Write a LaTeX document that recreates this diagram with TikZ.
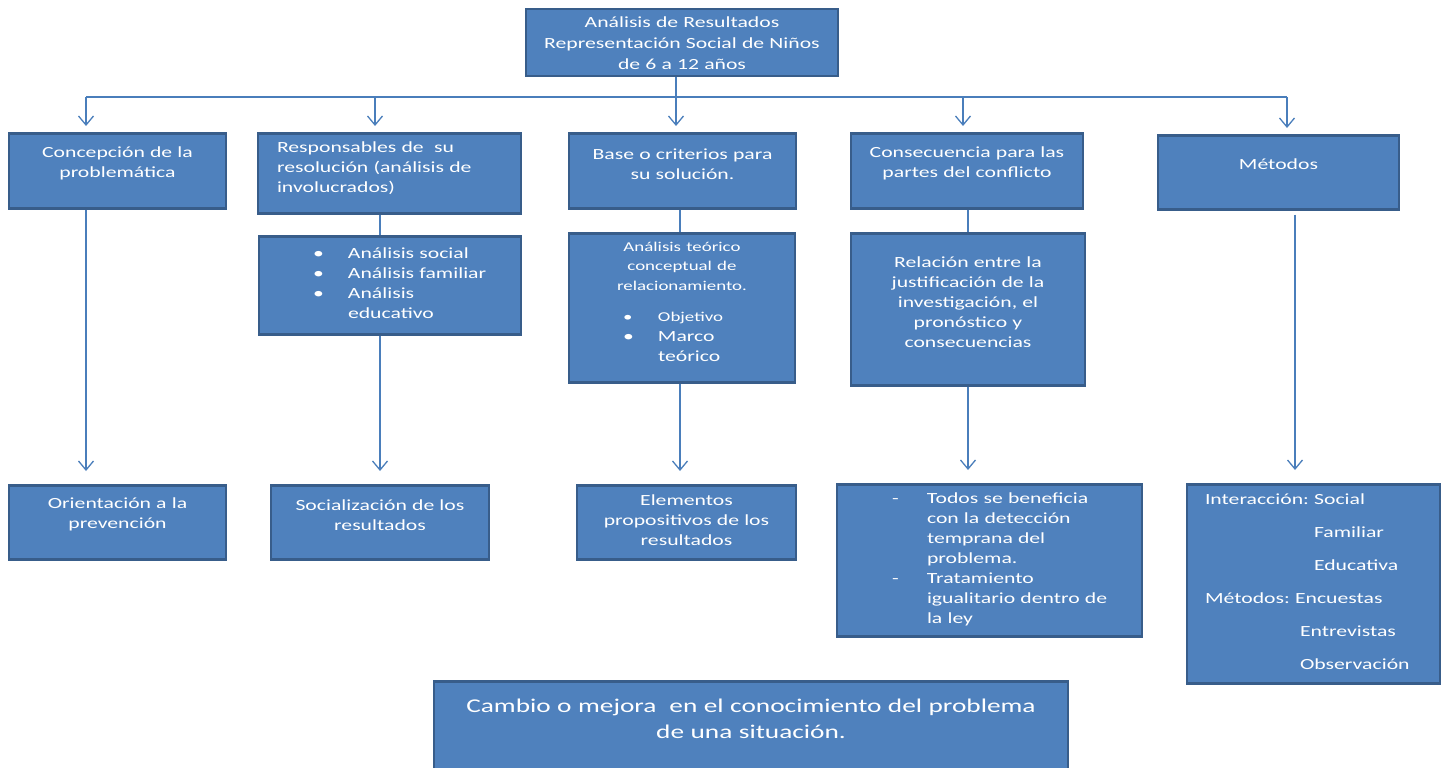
\documentclass[tikz,border=0pt]{standalone}
\usepackage{fontspec}
\setmainfont{Carlito}[FakeStretch=1.4]
\usepackage{tikz}
\usetikzlibrary{arrows.meta}
\usetikzlibrary{positioning}
\usepackage{xcolor}
\frenchspacing

\definecolor{azul}{HTML}{4F81BD}
\definecolor{bordeazul}{HTML}{385D8A}
\definecolor{lineaazul}{HTML}{4A7EBB}

\newcommand{\normal}{\fontsize{15.5}{20}\selectfont}
\newcommand{\chica}{\fontsize{13.5}{19}\selectfont}
\newcommand{\vineta}[3]{\hspace*{#1}\llap{\makebox[35pt][l]{#2}}#3}

\tikzset{
  caja/.style={draw=bordeazul, fill=azul, line width=2.5pt, text=white, inner sep=0pt,
    anchor=north, align=center, font=\normal},
  tam/.style 2 args={minimum width=#1, text width=#1, minimum height=#2},
  relleno/.style={execute at end node={\par\vspace*{#1}}},
  linea/.style={draw=lineaazul, line width=1.3pt},
  flecha/.style={linea, -{Straight Barb[length=9pt,width=15pt]}}
}

\begin{document}
\begin{tikzpicture}[x=1pt, y=-1pt]
    \useasboundingbox (0,0) rectangle (1443,768);
    % Titulo
    \node[caja, tam={312pt}{67pt}, font=\fontsize{15.5}{21}\selectfont] (titulo) at (682,8)
        {Análisis de Resultados\\Representación Social de Niños\\de 6 a 12 años};
    % Primera fila
    \node[caja, tam={217pt}{75pt}, relleno=14pt] (concepcion) at (117.5,132) {Concepción de la\\problemática};
    \node[caja, tam={263pt}{80pt}, relleno=10pt, align=left] (responsables) at (389.5,132)
        {\hspace*{19pt}Responsables de~ su\\\hspace*{19pt}resolución (análisis de\\\hspace*{19pt}involucrados)};
    \node[caja, tam={227pt}{75pt}, relleno=14pt] (base) at (682.5,132) {Base o criterios para\\su solución.};
    \node[caja, tam={232pt}{75pt}, relleno=14pt] (consecuencia) at (967,132) {Consecuencia para las\\partes del conflicto};
    \node[caja, tam={241pt}{74pt}, relleno=16pt] (metodos) at (1278.5,134) {Métodos};
    % Segunda fila
    \node[caja, tam={262pt}{98pt}, relleno=4pt, align=left] (analisis) at (390,235)
        {\vineta{89pt}{\textbullet}{Análisis social}\\\vineta{89pt}{\textbullet}{Análisis familiar}\\
         \vineta{89pt}{\textbullet}{Análisis}\\\hspace*{89pt}educativo};
    \node[caja, tam={226pt}{149pt}, relleno=12pt] (teorico) at (682,232)
        {{\chica Análisis teórico\\conceptual de\\relacionamiento.}\\[11pt]
         \makebox[\linewidth][l]{\chica\vineta{89pt}{\textbullet}{Objetivo}}\\
         \makebox[\linewidth][l]{\vineta{89pt}{\textbullet}{Marco}}\\
         \makebox[\linewidth][l]{\hspace*{89pt}teórico}};
    \node[caja, tam={234pt}{152pt}, relleno=15pt] (relacion) at (968,232)
        {Relación entre la\\justificación de la\\investigación, el\\pronóstico y\\consecuencias};
    % Tercera fila
    \node[caja, tam={217pt}{74pt}, relleno=16pt] (orientacion) at (117.5,484) {Orientación a la\\prevención};
    \node[caja, tam={218pt}{74pt}, relleno=15pt] (socializacion) at (380,484) {Socialización de los\\resultados};
    \node[caja, tam={219pt}{74pt}, relleno=4pt] (elementos) at (686.5,484) {Elementos\\propositivos de los\\resultados};
    \node[caja, tam={305pt}{152pt}, relleno=2pt, align=left] (beneficio) at (989.5,483)
        {\vineta{90pt}{-}{Todos se beneficia}\\\hspace*{90pt}con la detección\\\hspace*{90pt}temprana del\\
         \hspace*{90pt}problema.\\\vineta{90pt}{-}{Tratamiento}\\\hspace*{90pt}igualitario dentro de\\\hspace*{90pt}la ley};
    \node[caja, tam={253pt}{199pt}, relleno=4pt, align=left, font=\fontsize{15.5}{33}\selectfont] (tecnicas) at (1313.5,483)
        {\hspace*{18pt}Interacción: Social\\\hspace*{127pt}Familiar\\\hspace*{127pt}Educativa\\
         \hspace*{18pt}Métodos: Encuestas\\\hspace*{113pt}Entrevistas\\\hspace*{113pt}Observación};
    % Conclusion
    \node[caja, tam={634pt}{100pt}, relleno=24pt, font=\fontsize{19.5}{26}\selectfont] (cambio) at (751,680)
        {Cambio o mejora~ en el conocimiento del problema\\de una situación.};
    % Conectores
    \coordinate (c1) at (86,97);
    \coordinate (c2) at (375,97);
    \coordinate (c3) at (676,97);
    \coordinate (c4) at (963,97);
    \coordinate (c5) at (1287,97);
    \draw[linea] (titulo.south -| c3) -- (c3);
    \draw[linea] (c1) -- (c5);
    \foreach \c/\n in {c1/concepcion, c2/responsables, c3/base, c4/consecuencia, c5/metodos}
        \draw[flecha, shorten >=6pt] (\c) -- (\c |- \n.north);
    \coordinate (v2) at (380,300);
    \coordinate (v3) at (680,300);
    \coordinate (v4) at (968,300);
    \coordinate (v5) at (1295,300);
    \draw[flecha, shorten >=13pt] (concepcion.south -| c1) -- (c1 |- orientacion.north);
    \draw[linea] (responsables.south -| v2) -- (analisis.north -| v2);
    \draw[flecha, shorten >=13pt] (analisis.south -| v2) -- (socializacion.north -| v2);
    \draw[linea] (base.south -| v3) -- (teorico.north -| v3);
    \draw[flecha, shorten >=13pt] (teorico.south -| v3) -- (elementos.north -| v3);
    \draw[linea] (consecuencia.south -| v4) -- (relacion.north -| v4);
    \draw[flecha, shorten >=13pt] (relacion.south -| v4) -- (beneficio.north -| v4);
    \draw[flecha, shorten >=13pt] ([yshift=-4pt]metodos.south -| v5) -- (tecnicas.north -| v5);
\end{tikzpicture}
\end{document}
